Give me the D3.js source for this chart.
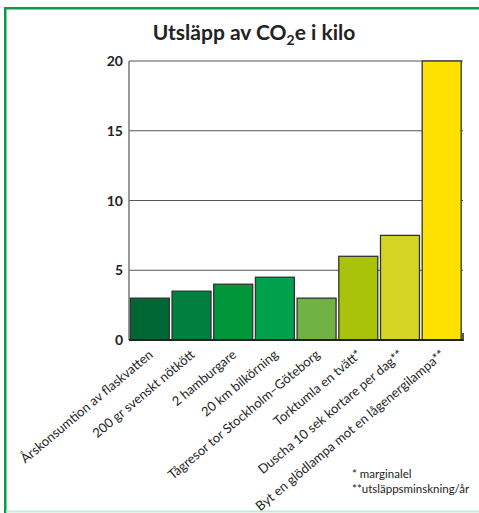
<!DOCTYPE html>
<html>
<head>
<meta charset="utf-8">
<script src="https://d3js.org/d3.v7.min.js"></script>
<style>
body { margin: 0; background: #fff; }
text { font-family: Lato, "Noto Sans", sans-serif; fill: #222; }
</style>
</head>
<body>
<svg id="chart"></svg>
<script>
// data
var categories = [
  "Årskonsumtion av flaskvatten",
  "200 gr svenskt nötkött",
  "2 hamburgare",
  "20 km bilkörning",
  "Tågresor tor Stockholm–Göteborg",
  "Torktumla en tvätt*",
  "Duscha 10 sek kortare per dag**",
  "Byt en glödlampa mot en lågenergilampa**"
];
var values = [3, 3.5, 4, 4.5, 3, 6, 7.5, 20];
var barColors = ["#006633", "#007f3e", "#009639", "#00a04c", "#70b244", "#a9c30a", "#d4d425", "#ffe100"];
var yTicks = [0, 5, 10, 15, 20];
var footnotes = ["* marginalel", "**utsläppsminskning/år"];

var W = 479, H = 513;
var svg = d3.select("#chart").attr("width", W).attr("height", H);

// green frame
svg.append("rect").attr("x", 4).attr("y", 7).attr("width", W - 4).attr("height", 2.5).attr("fill", "#0a9b4a");
svg.append("rect").attr("x", 4).attr("y", 7).attr("width", 2.5).attr("height", H - 7).attr("fill", "#0a9b4a");
svg.append("rect").attr("x", 6).attr("y", 510.5).attr("width", W - 6).attr("height", 2).attr("fill", "#c5ead2");

// title
var title = svg.append("text")
  .attr("x", 254).attr("y", 40)
  .attr("text-anchor", "middle")
  .style("font-size", "21px").style("font-weight", "bold");
title.append("tspan").text("Utsläpp av CO");
title.append("tspan").attr("dy", 5).style("font-size", "14px").text("2");
title.append("tspan").attr("dy", -5).text("e i kilo");

// scales
var x = d3.scaleBand().domain(categories).range([129.5, 462]).paddingInner(0.065).paddingOuter(0.02);
var y = d3.scaleLinear().domain([0, 20]).range([340, 61]);

// gridlines
svg.append("g").selectAll("line")
  .data(yTicks.filter(function(d){ return d > 0; }))
  .enter().append("line")
  .attr("x1", 129).attr("x2", 463)
  .attr("y1", function(d){ return y(d); }).attr("y2", function(d){ return y(d); })
  .attr("stroke", "#555").attr("stroke-width", 1.2);

// left axis line
svg.append("line").attr("x1", 129).attr("x2", 129).attr("y1", y(20)).attr("y2", y(0))
  .attr("stroke", "#777").attr("stroke-width", 1.5);

// y tick labels
svg.append("g").selectAll("text")
  .data(yTicks).enter().append("text")
  .attr("x", 123).attr("y", function(d){ return y(d) + 5; })
  .attr("text-anchor", "end")
  .style("font-size", "14px").style("font-weight", "bold")
  .text(function(d){ return d; });

// bars
svg.append("g").selectAll("rect")
  .data(values).enter().append("rect")
  .attr("x", function(d, i){ return x(categories[i]); })
  .attr("y", function(d){ return y(d); })
  .attr("width", x.bandwidth())
  .attr("height", function(d){ return y(0) - y(d); })
  .attr("fill", function(d, i){ return barColors[i]; })
  .attr("stroke", "#333").attr("stroke-width", 1.3);

// bottom axis
svg.append("line").attr("x1", 129).attr("x2", 463.5).attr("y1", 340).attr("y2", 340)
  .attr("stroke", "#222").attr("stroke-width", 2);
svg.append("line").attr("x1", 463).attr("x2", 463).attr("y1", 333).attr("y2", 341)
  .attr("stroke", "#222").attr("stroke-width", 1.5);

// category labels
svg.append("g").selectAll("text")
  .data(categories).enter().append("text")
  .attr("text-anchor", "end")
  .attr("transform", function(d){
    return "translate(" + (x(d) + x.bandwidth() / 2 + 4) + ",356) rotate(-40)";
  })
  .style("font-size", "13px")
  .text(function(d){ return d; });

// footnotes
svg.append("g").selectAll("text")
  .data(footnotes).enter().append("text")
  .attr("x", 352).attr("y", function(d, i){ return 478 + i * 15; })
  .style("font-size", "11.5px")
  .text(function(d){ return d; });
</script>
</body>
</html>
